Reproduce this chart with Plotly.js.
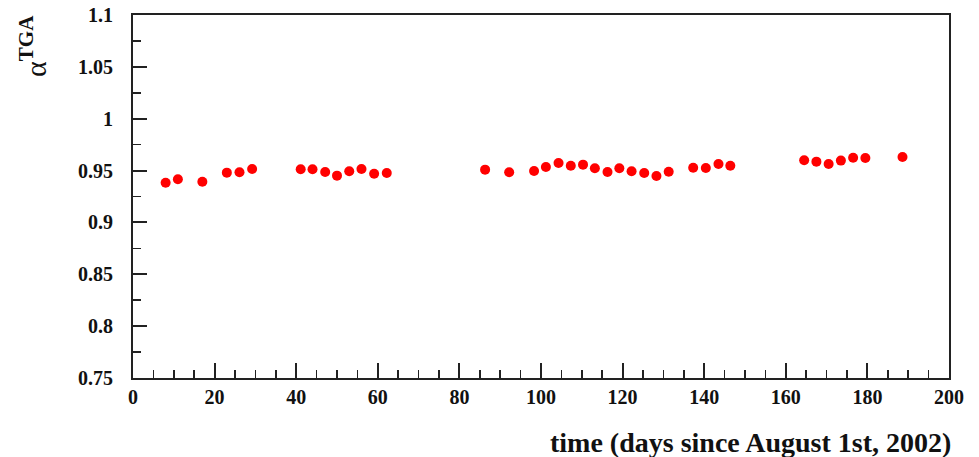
<!DOCTYPE html>
<html>
<head>
<meta charset="utf-8">
<script src="https://cdn.plot.ly/plotly-3.0.1.min.js"></script>
<style>html,body{margin:0;padding:0;background:#fff;}#chart{width:979px;height:457px;}</style>
</head>
<body>
<div id="chart"></div>
<script>
const days = [8.0, 11.0, 17.0, 23.0, 26.1, 29.2, 41.1, 44.0, 47.1, 50.0, 53.0, 56.0, 59.1, 62.2,
  86.3, 92.2, 98.3, 101.2, 104.3, 107.3, 110.3, 113.2, 116.3, 119.2, 122.2, 125.3, 128.3, 131.3,
  137.3, 140.4, 143.5, 146.4, 164.5, 167.5, 170.5, 173.5, 176.5, 179.5, 188.6];
const alphaTGA = [0.9383, 0.9416, 0.9393, 0.948, 0.9484, 0.9515, 0.9512, 0.9512, 0.9486, 0.9451, 0.9493, 0.9515, 0.947, 0.9477,
  0.9509, 0.9484, 0.9496, 0.9535, 0.9573, 0.9547, 0.9557, 0.9522, 0.9486, 0.9522, 0.9493, 0.9477, 0.9448, 0.9489,
  0.9528, 0.9525, 0.9564, 0.9547, 0.96, 0.9586, 0.9564, 0.9596, 0.9624, 0.9621, 0.9631];
const xTitle = 'time (days since August 1st, 2002)';
const yTitle = 'α<sup><b>TGA</b></sup>';

const fontFam = 'Liberation Serif, Times New Roman, serif';
const trace = {
  x: days, y: alphaTGA, type: 'scatter', mode: 'markers',
  marker: {color: '#ff0000', size: 10},
  hoverinfo: 'skip'
};
const layout = {
  width: 979, height: 457,
  margin: {l: 133, r: 30, t: 15, b: 79},
  paper_bgcolor: '#fff', plot_bgcolor: '#fff',
  showlegend: false,
  font: {family: fontFam},
  xaxis: {
    range: [0, 200], tick0: 0, dtick: 20, ticks: 'inside', ticklen: 15, tickwidth: 2, tickcolor: '#222',
    minor: {dtick: 5, ticks: 'inside', ticklen: 8, tickwidth: 1.5, tickcolor: '#222', showgrid: false},
    showline: true, linecolor: '#222', linewidth: 2, mirror: true,
    showgrid: false, zeroline: false,
    tickfont: {family: fontFam, size: 20, color: '#111', weight: 'bold'},
    ticklabelstandoff: 0
  },
  yaxis: {
    range: [0.75, 1.1], tick0: 0.75, dtick: 0.05, ticks: 'inside', ticklen: 14, tickwidth: 2, tickcolor: '#222',
    minor: {dtick: 0.025, ticks: 'inside', ticklen: 8, tickwidth: 1.5, tickcolor: '#222', showgrid: false},
    showline: true, linecolor: '#222', linewidth: 2, mirror: true,
    showgrid: false, zeroline: false,
    tickfont: {family: fontFam, size: 20, color: '#111', weight: 'bold'},
    ticklabelstandoff: 14
  },
  annotations: [
    {text: '<b>' + xTitle + '</b>', xref: 'paper', yref: 'paper', x: 1.005, y: -0.179,
     xanchor: 'right', yanchor: 'middle', showarrow: false,
     font: {family: fontFam, size: 28, color: '#111'}},
    {text: yTitle, xref: 'paper', yref: 'paper', x: -0.1225, y: 0.915,
     xanchor: 'center', yanchor: 'middle', textangle: -90, showarrow: false,
     font: {family: fontFam, size: 30, color: '#111'}}
  ]
};
Plotly.newPlot('chart', [trace], layout, {displayModeBar: false, staticPlot: true});
</script>
</body>
</html>
